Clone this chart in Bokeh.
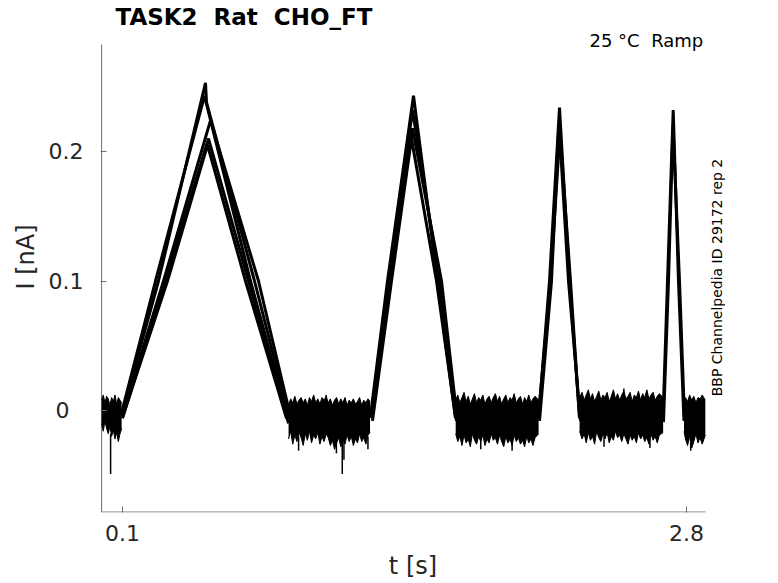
import math
from bokeh.plotting import figure
from bokeh.models import Range1d, FixedTicker, Label
from bokeh.embed import file_html
from bokeh.resources import INLINE

# ---------------- data ----------------
title_text = "TASK2\u00a0 Rat\u00a0 CHO_FT"
cond_text = "25 \u00b0C\u00a0 Ramp"
side_text = "BBP Channelpedia ID 29172 rep 2"
x_ticks = [0.1, 2.8]
x_tick_labels = ["0.1", "2.8"]
y_ticks = [0.0, 0.1, 0.2]
y_tick_labels = ["0\u2007", "0.1", "0.2"]
t_axis_end = 2.891      # end of the drawn time axis [s]
i_axis_top = 0.2826     # top of the drawn current axis [nA]
i_axis_bottom = -0.0788 # bottom of the drawn current axis [nA]

# ramp parts of the recorded sweeps: time [s], current [nA]
ramp_t = [
    [0.0952, 0.2580, 0.4925, 0.7127, 0.8899],
    [0.0970, 0.2723, 0.4973, 0.5021, 0.7319, 0.8994],
    [0.0985, 0.2963, 0.5213, 0.7510, 0.9090],
    [0.1000, 0.3154, 0.5069, 0.6888, 0.8851],
    [0.1000, 0.3058, 0.5117, 0.7032, 0.8947],
    [1.2872, 1.3685, 1.4930, 1.6079, 1.6941],
    [1.2920, 1.3781, 1.4882, 1.6175, 1.6989],
    [1.2967, 1.3877, 1.4834, 1.6031, 1.6941],
    [1.2920, 1.3829, 1.4882, 1.6271, 1.7037],
    [2.0914, 2.1440, 2.1919, 2.2398, 2.2876],
    [2.0962, 2.1536, 2.1895, 2.2350, 2.2924],
    [2.0914, 2.1488, 2.1943, 2.2446, 2.2876],
    [2.6873, 2.7089, 2.7362, 2.7615, 2.7878],
    [2.6897, 2.7137, 2.7352, 2.7663, 2.7902],
]
ramp_i = [
    [-0.002, 0.100, 0.243, 0.100, -0.005],
    [-0.003, 0.100, 0.253, 0.238, 0.100, -0.006],
    [-0.004, 0.100, 0.224, 0.100, -0.008],
    [-0.005, 0.100, 0.205, 0.100, -0.006],
    [-0.006, 0.100, 0.210, 0.100, -0.010],
    [-0.004, 0.100, 0.243, 0.100, -0.006],
    [-0.006, 0.100, 0.232, 0.100, -0.008],
    [-0.008, 0.100, 0.210, 0.100, -0.005],
    [-0.005, 0.100, 0.218, 0.100, -0.009],
    [-0.006, 0.100, 0.234, 0.100, -0.004],
    [-0.008, 0.100, 0.222, 0.100, -0.008],
    [-0.004, 0.100, 0.215, 0.100, -0.006],
    [-0.006, 0.100, 0.232, 0.100, -0.008],
    [-0.009, 0.100, 0.220, 0.100, -0.005],
]

# noise band of the holding segments: time, upper and lower edge [nA]
base1_t = [0.000, 0.008, 0.016, 0.024, 0.032, 0.040, 0.048, 0.056, 0.064,
           0.072, 0.080, 0.088, 0.096]
base1_up = [0.008, 0.012, 0.006, 0.011, 0.009, 0.004, 0.010, 0.007, 0.012,
            0.005, 0.010, 0.008, 0.006]
base1_lo = [-0.010, -0.016, -0.008, -0.014, -0.018, -0.012, -0.020, -0.015,
            -0.022, -0.017, -0.024, -0.018, -0.014]

base2_t = [0.895, 0.905, 0.915, 0.925, 0.935, 0.945, 0.955, 0.965, 0.975, 0.985,
           0.995, 1.005, 1.015, 1.025, 1.035, 1.045, 1.055, 1.065, 1.075, 1.085,
           1.095, 1.105, 1.115, 1.125, 1.135, 1.145, 1.155, 1.165, 1.175, 1.185,
           1.195, 1.205, 1.215, 1.225, 1.235, 1.245, 1.255, 1.265, 1.275, 1.285]
base2_up = [0.004, 0.009, 0.006, 0.011, 0.005, 0.008, 0.010, 0.006, 0.009, 0.004,
            0.010, 0.007, 0.012, 0.006, 0.009, 0.005, 0.010, 0.008, 0.011, 0.006,
            0.009, 0.004, 0.008, 0.010, 0.005, 0.009, 0.006, 0.010, 0.004, 0.008,
            0.006, 0.009, 0.005, 0.007, 0.010, 0.004, 0.008, 0.006, 0.009, 0.007]
base2_lo = [-0.022, -0.016, -0.026, -0.019, -0.024, -0.017, -0.021, -0.027, -0.018, -0.023,
            -0.016, -0.025, -0.019, -0.022, -0.017, -0.026, -0.020, -0.024, -0.018, -0.021,
            -0.027, -0.023, -0.030, -0.025, -0.021, -0.028, -0.022, -0.026, -0.019, -0.024,
            -0.020, -0.027, -0.022, -0.025, -0.018, -0.024, -0.021, -0.026, -0.019, -0.017]

base3_t = [1.695, 1.705, 1.715, 1.725, 1.735, 1.745, 1.755, 1.765, 1.775, 1.785,
           1.795, 1.805, 1.815, 1.825, 1.835, 1.845, 1.855, 1.865, 1.875, 1.885,
           1.895, 1.905, 1.915, 1.925, 1.935, 1.945, 1.955, 1.965, 1.975, 1.985,
           1.995, 2.005, 2.015, 2.025, 2.035, 2.045, 2.055, 2.065, 2.075, 2.092]
base3_up = [0.008, 0.012, 0.006, 0.010, 0.014, 0.007, 0.011, 0.005, 0.009, 0.013,
            0.006, 0.010, 0.008, 0.012, 0.005, 0.009, 0.011, 0.006, 0.010, 0.013,
            0.007, 0.011, 0.005, 0.009, 0.012, 0.006, 0.010, 0.008, 0.013, 0.006,
            0.009, 0.011, 0.005, 0.010, 0.007, 0.012, 0.006, 0.009, 0.011, 0.008]
base3_lo = [-0.018, -0.024, -0.020, -0.027, -0.019, -0.025, -0.022, -0.028, -0.018, -0.023,
            -0.026, -0.020, -0.024, -0.019, -0.027, -0.022, -0.025, -0.018, -0.023, -0.021,
            -0.026, -0.019, -0.024, -0.028, -0.020, -0.025, -0.022, -0.027, -0.019, -0.024,
            -0.021, -0.026, -0.023, -0.028, -0.020, -0.025, -0.022, -0.027, -0.021, -0.018]

base4_t = [2.288, 2.300, 2.310, 2.320, 2.330, 2.340, 2.350, 2.360, 2.370, 2.380,
           2.390, 2.400, 2.410, 2.420, 2.430, 2.440, 2.450, 2.460, 2.470, 2.480,
           2.490, 2.500, 2.510, 2.520, 2.530, 2.540, 2.550, 2.560, 2.570, 2.580,
           2.590, 2.600, 2.610, 2.620, 2.630, 2.640, 2.650, 2.660, 2.670, 2.688]
base4_up = [0.010, 0.014, 0.008, 0.012, 0.016, 0.009, 0.013, 0.007, 0.011, 0.015,
            0.008, 0.012, 0.010, 0.014, 0.007, 0.011, 0.016, 0.009, 0.013, 0.008,
            0.012, 0.015, 0.009, 0.011, 0.014, 0.007, 0.012, 0.010, 0.015, 0.008,
            0.013, 0.010, 0.016, 0.009, 0.012, 0.014, 0.008, 0.011, 0.013, 0.010]
base4_lo = [-0.016, -0.022, -0.018, -0.025, -0.017, -0.023, -0.020, -0.026, -0.016, -0.021,
            -0.024, -0.018, -0.022, -0.017, -0.025, -0.020, -0.023, -0.016, -0.021, -0.019,
            -0.024, -0.018, -0.022, -0.026, -0.019, -0.023, -0.020, -0.025, -0.017, -0.022,
            -0.019, -0.024, -0.021, -0.026, -0.018, -0.023, -0.020, -0.025, -0.019, -0.017]

base5_t = [2.788, 2.795, 2.805, 2.815, 2.825, 2.835, 2.845, 2.855, 2.865, 2.875, 2.890]
base5_up = [0.006, 0.010, 0.007, 0.012, 0.008, 0.011, 0.006, 0.010, 0.009, 0.012, 0.008]
base5_lo = [-0.016, -0.022, -0.027, -0.020, -0.029, -0.024, -0.018, -0.025, -0.021, -0.026, -0.019]

# isolated noise spikes: time, start value, extreme value
spike_t = [0.043, 0.943, 1.124, 1.152, 1.160, 1.275, 1.815, 1.965, 2.405, 2.625, 2.820, 1.075, 2.500]
spike_a = [-0.018, -0.020, -0.020, -0.022, -0.022, -0.020, -0.020, -0.022, -0.020, -0.020, -0.020, 0.004, 0.008]
spike_b = [-0.049, -0.031, -0.033, -0.049, -0.038, -0.030, -0.030, -0.031, -0.028, -0.029, -0.031, 0.012, 0.017]

# ---------------- figure ----------------
FONT = "DejaVu Sans"
TXT = "#262626"
AX = "#6e6e6e"

p = figure(frame_width=625, frame_height=511,
           min_border_left=100, min_border_top=1, min_border_right=10, min_border_bottom=10,
           x_range=Range1d(-0.00531, 2.98658), y_range=Range1d(-0.07876, 0.31583),
           output_backend="svg", toolbar_location=None)
p.outline_line_color = None
p.xgrid.visible = False
p.ygrid.visible = False
p.background_fill_color = "white"
p.border_fill_color = "white"

for ax in (p.xaxis, p.yaxis):
    ax.axis_line_color = None
    ax.major_tick_line_color = AX
    ax.major_tick_in = 6
    ax.major_tick_out = 0
    ax.minor_tick_line_color = None
    ax.major_label_text_font = FONT
    ax.major_label_text_font_size = "22px"
    ax.major_label_text_color = TXT
    ax.axis_label_text_font = FONT
    ax.axis_label_text_font_size = "24px"
    ax.axis_label_text_font_style = "normal"
    ax.axis_label_text_color = TXT

p.xaxis.ticker = FixedTicker(ticks=x_ticks)
p.xaxis.major_label_overrides = dict(zip(x_ticks, x_tick_labels))
p.xaxis.major_label_standoff = 12
p.xaxis.axis_label = "t [s]"
p.xaxis.axis_label_standoff = 8

p.yaxis.ticker = FixedTicker(ticks=y_ticks)
p.yaxis.major_label_overrides = dict(zip(y_ticks, y_tick_labels))
p.yaxis.major_label_standoff = 17
p.yaxis.axis_label = "I [nA]"
p.yaxis.axis_label_standoff = 6

# axis lines limited to the data box, as in the reference
p.segment(x0=[0.0, 0.0], y0=[i_axis_bottom, i_axis_bottom + 0.0004],
          x1=[0.0, t_axis_end], y1=[i_axis_top, i_axis_bottom + 0.0004],
          line_color=AX, line_width=1)

# noise bands
for bt, bu, bl in [(base1_t, base1_up, base1_lo), (base2_t, base2_up, base2_lo),
                   (base3_t, base3_up, base3_lo), (base4_t, base4_up, base4_lo),
                   (base5_t, base5_up, base5_lo)]:
    p.varea(x=bt, y1=bl, y2=bu, fill_color="black")
    p.line(x=bt, y=bu, line_color="black", line_width=1)
    p.line(x=bt, y=bl, line_color="black", line_width=1)

p.segment(x0=spike_t, y0=spike_a, x1=spike_t, y1=spike_b, line_color="black", line_width=1.5)

# ramp responses
p.multi_line(xs=ramp_t, ys=ramp_i, line_color="black", line_width=3)

# texts
p.add_layout(Label(x=0.0665, y=0.3035, text=title_text, text_font=FONT,
                   text_font_size="23px", text_font_style="bold", text_color="black",
                   text_baseline="alphabetic", text_align="left"))
p.add_layout(Label(x=2.880, y=0.2857, text=cond_text, text_font=FONT,
                   text_font_size="18px", text_color="black",
                   text_baseline="alphabetic", text_align="right"))
p.add_layout(Label(x=2.948, y=0.1027, text=side_text, text_font=FONT,
                   text_font_size="14px", text_color="black", angle=math.pi / 2,
                   text_baseline="middle", text_align="center"))

open("out.html", "w").write(file_html(p, INLINE))
